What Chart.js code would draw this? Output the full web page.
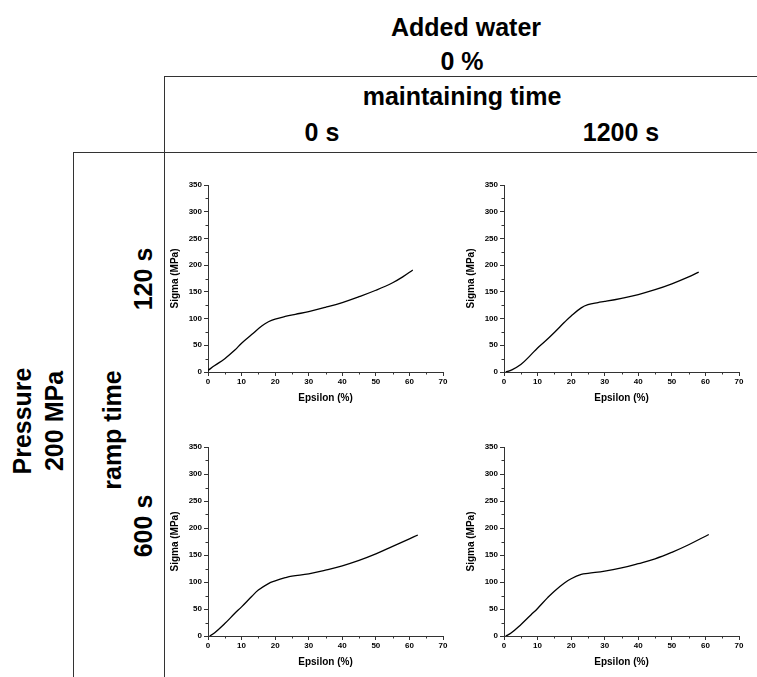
<!DOCTYPE html>
<html>
<head>
<meta charset="utf-8">
<script src="https://cdn.jsdelivr.net/npm/chart.js@4.4.1/dist/chart.umd.min.js"></script>
<style>
    html, body { margin: 0; padding: 0; background: #fff; }
    #page { position: relative; width: 757px; height: 677px; overflow: hidden; background: #fff;
            font-family: "Liberation Sans", Arial, sans-serif; font-weight: bold; color: #000; }
    .lbl { position: absolute; white-space: nowrap; line-height: 1; font-size: 25px;
           transform: translate(-50%, -50%); }
    .rot { transform: translate(-50%, -50%) rotate(-90deg); }
    .hline { position: absolute; height: 0; border-top: 1.5px solid #333; }
    .vline { position: absolute; width: 0; border-left: 1.5px solid #333; }
    canvas { position: absolute; }
</style>
</head>
<body>
<div id="page">
    <div class="hline" style="left:165px; top:76px; width:600px;"></div>
    <div class="vline" style="left:164px; top:76px; height:610px;"></div>
    <div class="hline" style="left:74px; top:152px; width:690px;"></div>
    <div class="vline" style="left:73px; top:152px; height:530px;"></div>

    <div class="lbl" style="left:466px; top:27px;">Added water</div>
    <div class="lbl" style="left:462px; top:61px;">0 %</div>
    <div class="lbl" style="left:462px; top:96px;">maintaining time</div>
    <div class="lbl" style="left:322px; top:132px;">0 s</div>
    <div class="lbl" style="left:621px; top:132px;">1200 s</div>

    <div class="lbl rot" style="left:22px; top:421px;">Pressure</div>
    <div class="lbl rot" style="left:54px; top:421px;">200 MPa</div>
    <div class="lbl rot" style="left:112px; top:430px;">ramp time</div>
    <div class="lbl rot" style="left:143px; top:279px;">120 s</div>
    <div class="lbl rot" style="left:143px; top:526px;">600 s</div>

    <canvas id="c1" width="295" height="240" style="left:160px; top:175px;"></canvas>
    <canvas id="c2" width="295" height="240" style="left:456px; top:175px;"></canvas>
    <canvas id="c3" width="295" height="240" style="left:160px; top:437px;"></canvas>
    <canvas id="c4" width="295" height="240" style="left:456px; top:437px;"></canvas>
</div>

<script>
// stress-strain curves, Epsilon (%) vs Sigma (MPa)
// ramp 120 s, maintaining 0 s
const eps1 = [0, 2, 5, 8, 10, 13, 16, 18, 20, 23, 26, 30, 35, 40, 45, 50, 55, 58, 61];
const sig1 = [3, 12, 25, 41, 54, 70, 86, 94, 99, 104, 108, 113, 121, 130, 141, 153, 167, 178, 191];
// ramp 120 s, maintaining 1200 s
const eps2 = [0.5, 2, 5, 8, 10, 12, 15, 18, 20, 23, 25, 28, 30, 35, 40, 45, 50, 55, 58];
const sig2 = [0, 3, 14, 32, 45, 56, 74, 93, 105, 120, 126, 130, 132, 138, 145, 154, 165, 178, 187];
// ramp 600 s, maintaining 0 s
const eps3 = [0.5, 2, 5, 8, 10, 13, 15, 18, 20, 23, 25, 30, 35, 40, 45, 50, 55, 60, 62.5];
const sig3 = [0, 6, 23, 42, 54, 73, 85, 97, 102, 108, 111, 115, 122, 130, 140, 152, 166, 180, 187];
// ramp 600 s, maintaining 1200 s
const eps4 = [0.5, 2, 5, 8, 10, 13, 15, 18, 20, 23, 25, 30, 35, 40, 45, 50, 55, 61];
const sig4 = [0, 5, 21, 39, 51, 71, 83, 98, 106, 114, 116, 120, 126, 134, 143, 155, 169, 188];

// axes
const xMax = 70, xStep = 5, xMajor = 10;
const yMax = 350, yStep = 25, yMajor = 50;

const tickFont = { family: 'Liberation Sans, Arial', size: 8, weight: 'bold' };
const titleFont = { family: 'Liberation Sans, Arial', size: 10, weight: 'bold' };

// short minor ticks between the labelled ones
const minorTicks = {
    id: 'minorTicks',
    afterDraw(chart) {
        const ctx = chart.ctx;
        const xs = chart.scales.x, ys = chart.scales.y;
        ctx.save();
        ctx.strokeStyle = '#333';
        ctx.lineWidth = 1;
        ctx.beginPath();
        xs.ticks.forEach(t => {
            if (t.value % xMajor !== 0) {
                const px = Math.round(xs.getPixelForValue(t.value)) + 0.5;
                ctx.moveTo(px, xs.top);
                ctx.lineTo(px, xs.top + 2.5);
            }
        });
        ys.ticks.forEach(t => {
            if (t.value % yMajor !== 0) {
                const py = Math.round(ys.getPixelForValue(t.value)) + 0.5;
                ctx.moveTo(ys.right, py);
                ctx.lineTo(ys.right - 2.5, py);
            }
        });
        ctx.stroke();
        ctx.restore();
    }
};

function crearGrafico(id, eps, sig, padBottom) {
    const puntos = eps.map((e, i) => ({ x: e, y: sig[i] }));
    return new Chart(document.getElementById(id), {
        type: 'line',
        data: {
            datasets: [{
                data: puntos,
                borderColor: '#000',
                borderWidth: 1.3,
                pointRadius: 0,
                tension: 0.4,
                fill: false
            }]
        },
        options: {
            responsive: false,
            animation: false,
            layout: { padding: { top: 10, right: 12, bottom: padBottom, left: 0 } },
            plugins: { legend: { display: false }, tooltip: { enabled: false } },
            scales: {
                x: {
                    type: 'linear',
                    min: 0, max: xMax,
                    border: { display: true, color: '#333', width: 1 },
                    grid: {
                        drawOnChartArea: false,
                        tickLength: 4,
                        tickColor: c => (c.tick && c.tick.value % xMajor === 0) ? '#333' : 'rgba(0,0,0,0)'
                    },
                    ticks: {
                        stepSize: xStep,
                        autoSkip: false,
                        maxRotation: 0,
                        padding: 1,
                        color: '#000',
                        font: tickFont,
                        callback: v => (v % xMajor === 0 ? v : '')
                    },
                    title: { display: true, text: 'Epsilon (%)', color: '#000', font: titleFont, padding: { top: 0, bottom: 0 } },
                    afterFit: s => { s.height = 32; }
                },
                y: {
                    min: 0, max: yMax,
                    border: { display: true, color: '#333', width: 1 },
                    grid: {
                        drawOnChartArea: false,
                        tickLength: 4,
                        tickColor: c => (c.tick && c.tick.value % yMajor === 0) ? '#333' : 'rgba(0,0,0,0)'
                    },
                    ticks: {
                        stepSize: yStep,
                        autoSkip: false,
                        padding: 2,
                        color: '#000',
                        font: tickFont,
                        callback: v => (v % yMajor === 0 ? v : '')
                    },
                    title: { display: true, text: 'Sigma (MPa)', color: '#000', font: titleFont, padding: { top: 9, bottom: 0 } },
                    afterFit: s => { s.width = 48; }
                }
            }
        },
        plugins: [minorTicks]
    });
}

crearGrafico('c1', eps1, sig1, 11);
crearGrafico('c2', eps2, sig2, 11);
crearGrafico('c3', eps3, sig3, 9);
crearGrafico('c4', eps4, sig4, 9);
</script>
</body>
</html>
